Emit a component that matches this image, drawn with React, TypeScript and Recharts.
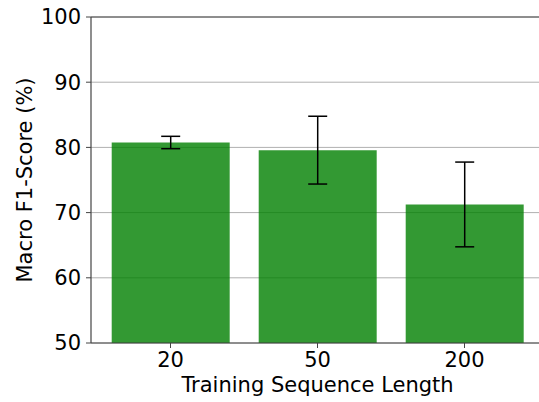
import React from "react";
import { BarChart, Bar, XAxis, YAxis, CartesianGrid, ErrorBar, ReferenceLine } from "recharts";

const lengths = ["20", "50", "200"];
const f1Means = [80.75, 79.58, 71.25];
const f1Errors = [0.95, 5.2, 6.5];
const yTicks = [50, 60, 70, 80, 90, 100];

const data = lengths.map((len, i) => ({ len, mean: f1Means[i], err: f1Errors[i] }));

const FONT = "'DejaVu Sans', sans-serif";
const FS = 21;

function YLabel({ viewBox }: { viewBox?: { x: number; y: number; width: number; height: number } }) {
  if (!viewBox) return null;
  const cx = viewBox.x + 25;
  const cy = viewBox.y + viewBox.height / 2;
  return (
    <text x={cx} y={cy} transform={`rotate(-90, ${cx}, ${cy})`} textAnchor="middle" dominantBaseline="central" fontSize={FS} fill="#000" fontFamily={FONT}>
      Macro F1-Score (%)
    </text>
  );
}

function XLabel({ viewBox }: { viewBox?: { x: number; y: number; width: number; height: number } }) {
  if (!viewBox) return null;
  const cx = viewBox.x + viewBox.width / 2;
  return (
    <text x={cx} y={viewBox.y + 49} textAnchor="middle" fontSize={FS} fill="#000" fontFamily={FONT}>
      Training Sequence Length
    </text>
  );
}

export default function App() {
  return (
    <div style={{ position: "absolute", left: 0, top: 0, width: 539, height: 402, overflow: "hidden", background: "#fff" }}>
      <BarChart width={545} height={402} data={data} margin={{ top: 17, right: 1, bottom: 0, left: 0 }} barCategoryGap="10%">
        <CartesianGrid vertical={false} stroke="#b0b0b0" strokeWidth={1} />
        <XAxis
          dataKey="len"
          height={59}
          padding={{ left: 6, right: 6 }}
          axisLine={{ stroke: "#444", strokeWidth: 1.2 }}
          tickLine={{ stroke: "#444" }}
          tickSize={5}
          tickMargin={4}
          tick={{ fontSize: FS, fill: "#000", fontFamily: FONT }}
          label={<XLabel />}
        />
        <YAxis
          domain={[50, 100]}
          ticks={yTicks}
          width={91}
          axisLine={{ stroke: "#444", strokeWidth: 1.2 }}
          tickLine={{ stroke: "#444" }}
          tickSize={5}
          tickMargin={5}
          tick={{ fontSize: FS, fill: "#000", fontFamily: FONT }}
          label={<YLabel />}
        />
        <ReferenceLine y={100} stroke="#444" strokeWidth={1.2} />
        <Bar dataKey="mean" fill="#008000" fillOpacity={0.8} isAnimationActive={false}>
          <ErrorBar dataKey="err" width={9.5} stroke="#000" strokeWidth={1.5} isAnimationActive={false} />
        </Bar>
      </BarChart>
    </div>
  );
}
